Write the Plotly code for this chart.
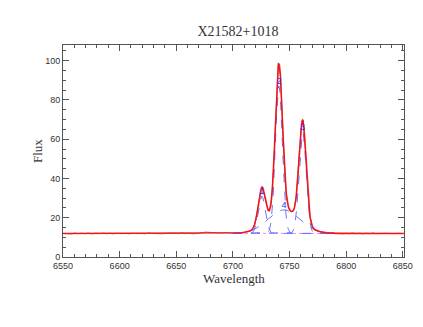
import numpy as np
import plotly.graph_objects as go

title = "X21582+1018"
x_label = "Wavelength"
y_label = "Flux"

wave_obs = list(range(6550, 6852, 2))
flux_obs = [
    12.0, 11.9, 12.1, 12.0, 11.8, 12.2, 12.0, 11.9, 12.1, 12.0,   # 6550-6568
    11.9, 12.2, 12.0, 11.8, 12.1, 12.0, 11.9, 12.0, 12.2, 11.9,   # 6570-6588
    12.0, 12.1, 11.8, 12.0, 12.1, 11.9, 12.0, 12.2, 12.0, 11.8,   # 6590-6608
    12.0, 12.1, 11.9, 12.0, 12.1, 12.0, 11.8, 12.0, 12.2, 12.0,   # 6610-6628
    11.9, 12.1, 12.0, 11.7, 11.8, 12.0, 12.1, 11.9, 12.0, 12.1,   # 6630-6648
    12.0, 11.9, 12.2, 12.0, 11.9, 12.0, 12.1, 11.8, 11.7, 11.9,   # 6650-6668
    12.1, 12.4, 12.6, 12.7, 12.6, 12.5, 12.7, 12.4, 12.3, 12.1,   # 6670-6688
    12.2, 12.4, 12.3, 12.2, 12.4,                                 # 6690-6698
    12.1, 12.2, 12.1, 12.3, 12.4, 12.6, 12.8, 13.1, 13.6, 14.9,   # 6700-6718
    18.4, 25.3, 33.1, 35.9, 31.3, 25.7, 23.4, 29.2, 47.0, 75.9,   # 6720-6738
    98.9, 92.0, 65.4, 40.2, 27.8, 23.8, 22.9, 24.4, 31.6, 47.4,   # 6740-6758
    65.2, 69.9, 54.6, 33.6, 20.6, 15.9, 14.1, 13.3, 12.9, 12.6,   # 6760-6778
    12.4, 12.2, 12.0, 12.1, 12.3, 11.9, 12.0, 12.1, 11.8, 12.0,   # 6780-6798
    12.1, 11.9, 12.0, 12.2, 11.9, 12.0, 12.1, 11.8, 12.0, 12.1,   # 6800-6818
    11.9, 12.0, 12.2, 11.9, 12.0, 12.1, 11.9, 12.0, 12.1, 12.0,   # 6820-6838
    11.9, 12.1, 12.0, 12.1, 11.9, 12.0,                           # 6840-6850
]

# fitted model components
continuum = 12.0
comp_labels = ["1", "2", "3", "4"]
comp_center = [6725.5, 6740.6, 6761.5, 6745.0]
comp_peak = [19.0, 75.1, 51.7, 12.0]
comp_sigma = [3.1, 3.1, 3.1, 14.0]
comp_range = [6700, 6790]

x_range = [6550, 6851]
y_range = [0, 108]

def gauss(x, c, a, s):
    return a * np.exp(-(x - c) ** 2 / (2 * s * s))

xf = np.arange(x_range[0], x_range[1] + 0.25, 0.25)
model = continuum + sum(gauss(xf, c, a, s) for c, a, s in zip(comp_center, comp_peak, comp_sigma))

xc = np.arange(comp_range[0], comp_range[1] + 0.25, 0.25)

fig = go.Figure()
fig.add_trace(go.Scatter(x=wave_obs[:len(flux_obs)], y=flux_obs, mode="lines",
                         line=dict(color="#7a7a7a", width=1), hoverinfo="skip"))
fig.add_trace(go.Scatter(x=[comp_range[0], comp_range[1]], y=[continuum, continuum], mode="lines",
                         line=dict(color="#ff80ff", width=1, dash="dot")))
for c, a, s in zip(comp_center, comp_peak, comp_sigma):
    fig.add_trace(go.Scatter(x=xc, y=continuum + gauss(xc, c, a, s), mode="lines",
                             line=dict(color="#7070ff", width=1, dash="dash")))
fig.add_trace(go.Scatter(x=xf, y=model, mode="lines",
                         line=dict(color="rgba(255,0,0,0.85)", width=1.6)))
fig.add_trace(go.Scatter(x=comp_center, y=[continuum + a + 2 for a in comp_peak],
                         mode="text", text=comp_labels,
                         textfont=dict(color="#3030ff", size=9, family="Liberation Sans")))

axis_common = dict(showline=True, linecolor="#555", linewidth=1, mirror="ticks",
                   ticks="inside", tickcolor="#555", ticklen=6, showgrid=False, zeroline=False,
                   tickfont=dict(family="Liberation Sans", size=9, color="#333"))
fig.update_xaxes(range=x_range, dtick=50, tick0=6550,
                 minor=dict(dtick=10, ticks="inside", ticklen=3, tickcolor="#555"), **axis_common)
fig.update_yaxes(range=y_range, dtick=20, tick0=0,
                 minor=dict(dtick=5, ticks="inside", ticklen=3, tickcolor="#555"), **axis_common)

W, H = 415, 319
fig.update_layout(
    width=W, height=H, showlegend=False,
    margin=dict(l=55, r=10, t=37, b=70),
    paper_bgcolor="white", plot_bgcolor="white",
    title=dict(text=title, x=230 / W, xanchor="center", y=1 - 23 / H, yanchor="middle",
               font=dict(family="Liberation Serif", size=14, color="#333")),
    annotations=[
        dict(text=x_label, xref="paper", yref="paper", x=0.5, y=0, yshift=-21, yanchor="middle",
             showarrow=False, font=dict(family="Liberation Serif", size=13, color="#333")),
        dict(text=y_label, xref="paper", yref="paper", x=0, xshift=-26, y=0.5, textangle=-90,
             xanchor="center", showarrow=False,
             font=dict(family="Liberation Serif", size=13, color="#333")),
    ],
)
fig.write_html("out.html")
